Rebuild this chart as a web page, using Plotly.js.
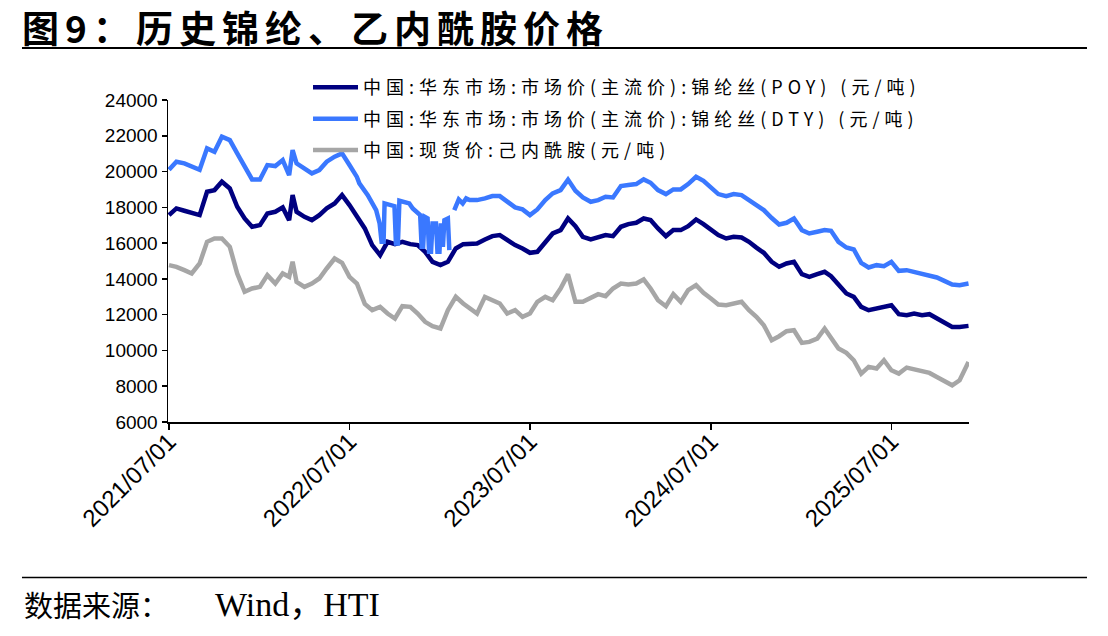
<!DOCTYPE html>
<html><head><meta charset="utf-8">
<script src="https://cdn.plot.ly/plotly-3.0.1.min.js"></script>
<style>
body{margin:0;background:#fff}
#chart{width:1108px;height:636px}
.legendtext{letter-spacing:5px}
.gtitle{letter-spacing:6px}
</style>
</head><body><div id="chart"></div>
<script>
// Shared dates for POY and caprolactam (semi-monthly readings + spike)
const dates = [
'2021-07-01','2021-07-16','2021-08-01','2021-08-16','2021-09-01','2021-09-16','2021-10-01','2021-10-16','2021-11-01','2021-11-16','2021-12-01','2021-12-16',
'2022-01-01','2022-01-16','2022-02-01','2022-02-16','2022-03-01','2022-03-08','2022-03-16','2022-04-01','2022-04-16','2022-05-01','2022-05-16','2022-06-01','2022-06-16',
'2022-07-01','2022-07-16','2022-08-01','2022-08-16','2022-09-01','2022-09-16','2022-10-01','2022-10-16','2022-11-01','2022-11-16','2022-12-01','2022-12-16',
'2023-01-01','2023-01-16','2023-02-01','2023-02-16','2023-03-01','2023-03-16','2023-04-01','2023-04-16','2023-05-01','2023-05-16','2023-06-01','2023-06-16',
'2023-07-01','2023-07-16','2023-08-01','2023-08-16','2023-09-01','2023-09-16','2023-10-01','2023-10-16','2023-11-01','2023-11-16','2023-12-01','2023-12-16',
'2024-01-01','2024-01-16','2024-02-01','2024-02-16','2024-03-01','2024-03-16','2024-04-01','2024-04-16','2024-05-01','2024-05-16','2024-06-01','2024-06-16',
'2024-07-01','2024-07-16','2024-08-01','2024-08-16','2024-09-01','2024-09-16','2024-10-01','2024-10-16','2024-11-01','2024-11-16','2024-12-01','2024-12-16',
'2025-01-01','2025-01-16','2025-02-01','2025-02-16','2025-03-01','2025-03-16','2025-04-01','2025-04-16','2025-05-01','2025-05-16','2025-06-01','2025-06-16',
'2025-07-01','2025-07-16','2025-08-01','2025-08-16','2025-09-01','2025-09-16','2025-10-01','2025-10-16','2025-11-01','2025-11-16','2025-12-01','2025-12-04'
];
const poyValues = [
17566,17939,17808,17659,17566,18871,18964,19430,19058,18032,17379,16913,
17006,17659,17752,17995,17286,18685,17752,17472,17286,17566,17939,18218,18685,
18125,17472,16820,15887,15328,16074,15943,16074,15943,15887,15514,14955,
14768,14955,15701,15943,15943,15980,16204,16391,16447,16167,15887,15701,
15458,15514,16074,16540,16727,17379,16950,16353,16204,16316,16447,16391,
16913,17062,17137,17379,17286,16820,16391,16727,16727,16950,17323,17062,
16764,16447,16260,16353,16316,16074,15750,15458,14955,14675,14861,14954,
14264,14115,14264,14395,14152,13649,13183,12996,12437,12250,12343,12399,
12530,12026,11970,12064,11970,12026,11784,11541,11317,11317,11373,11373
];
const cplValues = [
14768,14675,14489,14302,14861,16074,16260,16260,15794,14302,13276,13463,
13556,14209,13742,14302,14116,14955,13836,13556,13742,14023,14582,15141,14900,
14116,13742,12600,12250,12437,12064,11784,12474,12437,12064,11598,11355,
11225,12250,12996,12623,12344,12064,12996,12810,12623,12064,12250,11877,
12064,12717,12996,12810,13463,14250,12717,12717,12903,13146,13034,13463,
13742,13687,13742,13966,13463,12810,12474,13146,12717,13370,13649,13220,
12903,12568,12530,12623,12717,12250,11877,11411,10571,10795,11075,11131,
10422,10478,10665,11224,10665,10105,9863,9452,8707,9080,8987,9452,
8893,8707,9042,8949,8856,8744,8520,8296,8053,8333,9173,9360
];
// DTY has its own (denser) readings in the volatile period
const dtyDates = [
'2021-07-01','2021-07-16','2021-08-01','2021-08-16','2021-09-01','2021-09-16','2021-10-01','2021-10-16','2021-11-01','2021-11-16','2021-12-01','2021-12-16',
'2022-01-01','2022-01-16','2022-02-01','2022-02-16','2022-03-01','2022-03-08','2022-03-16','2022-04-01','2022-04-16','2022-05-01','2022-05-16','2022-06-01','2022-06-16',
'2022-07-01','2022-07-16','2022-07-21','2022-08-07','2022-08-24','2022-08-31','2022-09-04','2022-09-08','2022-09-10','2022-09-23','2022-09-30','2022-10-03','2022-10-07',
'2022-10-10','2022-10-23','2022-10-30','2022-11-06','2022-11-16','2022-11-21','2022-11-24','2022-11-27','2022-11-30','2022-12-06','2022-12-09','2022-12-13',
'2022-12-16','2022-12-23','2022-12-26','2022-12-30','2023-01-02','2023-01-06','2023-01-09','2023-01-16','2023-01-19','2023-01-24','2023-01-29','2023-02-07','2023-02-15','2023-02-22',
'2023-03-01','2023-03-16','2023-04-01','2023-04-16','2023-05-01','2023-05-16','2023-06-01','2023-06-16',
'2023-07-01','2023-07-16','2023-08-01','2023-08-16','2023-09-01','2023-09-16','2023-10-01','2023-10-16','2023-11-01','2023-11-16','2023-12-01','2023-12-16',
'2024-01-01','2024-01-16','2024-02-01','2024-02-16','2024-03-01','2024-03-16','2024-04-01','2024-04-16','2024-05-01','2024-05-16','2024-06-01','2024-06-16',
'2024-07-01','2024-07-16','2024-08-01','2024-08-16','2024-09-01','2024-09-16','2024-10-01','2024-10-16','2024-11-01','2024-11-16','2024-12-01','2024-12-16',
'2025-01-01','2025-01-16','2025-02-01','2025-02-16','2025-03-01','2025-03-16','2025-04-01','2025-04-16','2025-05-01','2025-05-16','2025-06-01','2025-06-16',
'2025-07-01','2025-07-16','2025-08-01','2025-08-16','2025-09-01','2025-09-16','2025-10-01','2025-10-16','2025-11-01','2025-11-16','2025-12-01','2025-12-04'
];
const dtyValues = [
20100,20550,20456,20270,20100,21296,21110,21950,21760,21016,20270,19560,
19560,20363,20307,20643,19800,21200,20456,20177,19900,20083,20550,20830,21016,
20363,19700,19337,18684,17845,17099,16073,16073,18218,18124,18068,15980,15980,
18367,18311,18218,17938,17658,17565,15793,15793,17472,17378,15513,15513,
17099,17099,15513,15513,17099,15793,17285,17378,15607,null,17845,18441,18218,18497,
18405,18405,18498,18629,18629,18312,17995,17883,
17566,17883,18405,18778,18964,19550,18927,18554,18312,18405,18591,18554,
19188,19244,19300,19561,19375,18964,18741,19002,19002,19300,19710,19487,
19151,18741,18629,18741,18685,18405,18181,17845,17400,17043,17136,17379,
16726,16540,16633,16726,16689,16073,15756,15644,14898,14637,14768,14712,
14954,14451,14488,14395,14264,14208,14078,13891,13686,13649,13742,13742
];
const seriesNames = [
  '中国:华东市场:市场价(主流价):锦纶丝(POY) (元/吨)',
  '中国:华东市场:市场价(主流价):锦纶丝(DTY) (元/吨)',
  '中国:现货价:己内酰胺(元/吨)'
];
const xTickVals = ['2021-07-01','2022-07-01','2023-07-01','2024-07-01','2025-07-01'];
const xTickText = ['2021/07/01','2022/07/01','2023/07/01','2024/07/01','2025/07/01'];
const yTickVals = [6000,8000,10000,12000,14000,16000,18000,20000,22000,24000];
const titleText = '图9：历史锦纶、乙内酰胺价格';
const sourceLabel = '数据来源：';
const sourceNames = 'Wind，HTI';

const yTickFont = {family: "'Liberation Sans', Arial, sans-serif", size: 19, color: '#000'};
const xTickFont = {family: "'Liberation Sans', Arial, sans-serif", size: 24, color: '#000'};
const traces = [
  {x: dates, y: poyValues, name: seriesNames[0], legendgroup: 'a', type: 'scatter', mode: 'lines',
   line: {color: '#000080', width: 4.5}},
  {x: dtyDates, y: dtyValues, name: seriesNames[1], legendgroup: 'b', type: 'scatter', mode: 'lines',
   line: {color: '#3A78FF', width: 4.5}},
  {x: dates, y: cplValues, name: seriesNames[2], legendgroup: 'c', type: 'scatter', mode: 'lines',
   line: {color: '#A6A6A6', width: 4.5}}
];
const layout = {
  width: 1108, height: 636,
  margin: {l: 168, r: 139, t: 100, b: 214},
  paper_bgcolor: '#fff', plot_bgcolor: '#fff',
  showlegend: true,
  title: {text: titleText, x: 0.0199, xanchor: 'left', xref: 'container', y: 0.952, yanchor: 'middle', yref: 'container',
          font: {family: "'Noto Sans CJK SC', sans-serif", size: 37, weight: 'bold', color: '#000'}},
  legend: {x: 0.1748, y: 1.096, xanchor: 'left', yanchor: 'top', bgcolor: 'rgba(0,0,0,0)', borderwidth: 0,
           itemwidth: 45, tracegroupgap: 5,
           font: {family: "'Noto Sans CJK SC', sans-serif", size: 18, color: '#000'}},
  xaxis: {type: 'date', range: ['2021-06-29', '2025-12-05'], showgrid: false, zeroline: false,
          showline: true, linecolor: '#000', linewidth: 2, ticks: 'outside', ticklen: 6, tickwidth: 1.5, tickcolor: '#000',
          tickmode: 'array', tickvals: xTickVals, ticktext: xTickText, tickangle: -45, tickfont: xTickFont,
          ticklabelstandoff: -12},
  yaxis: {range: [6000, 24000], showgrid: false, zeroline: false, showline: true, linecolor: '#000', linewidth: 1.5,
          ticks: 'outside', ticklen: 5, tickwidth: 1.5, tickcolor: '#000', tickmode: 'array', tickvals: yTickVals,
          tickformat: 'd', tickfont: yTickFont},
  shapes: [
    {type: 'line', xref: 'paper', yref: 'paper', x0: -0.1823, x1: 1.1473, y0: 1.1616, y1: 1.1616, line: {color: '#000', width: 2}},
    {type: 'line', xref: 'paper', yref: 'paper', x0: -0.1823, x1: 1.1473, y0: -0.4828, y1: -0.4828, line: {color: '#000', width: 1.5}}
  ],
  annotations: [
    {text: sourceLabel, xref: 'paper', yref: 'paper', x: -0.1823, y: -0.5667, xanchor: 'left', yanchor: 'middle', showarrow: false,
     font: {family: "'Noto Sans CJK SC', sans-serif", size: 29, color: '#000'}},
    {text: sourceNames, xref: 'paper', yref: 'paper', x: 0.0562, y: -0.5667, xanchor: 'left', yanchor: 'middle', showarrow: false,
     font: {family: "'Liberation Serif', 'Noto Sans CJK SC', serif", size: 34, color: '#000'}}
  ]
};
Plotly.newPlot('chart', traces, layout, {displayModeBar: false, staticPlot: true});
</script>
</body></html>
